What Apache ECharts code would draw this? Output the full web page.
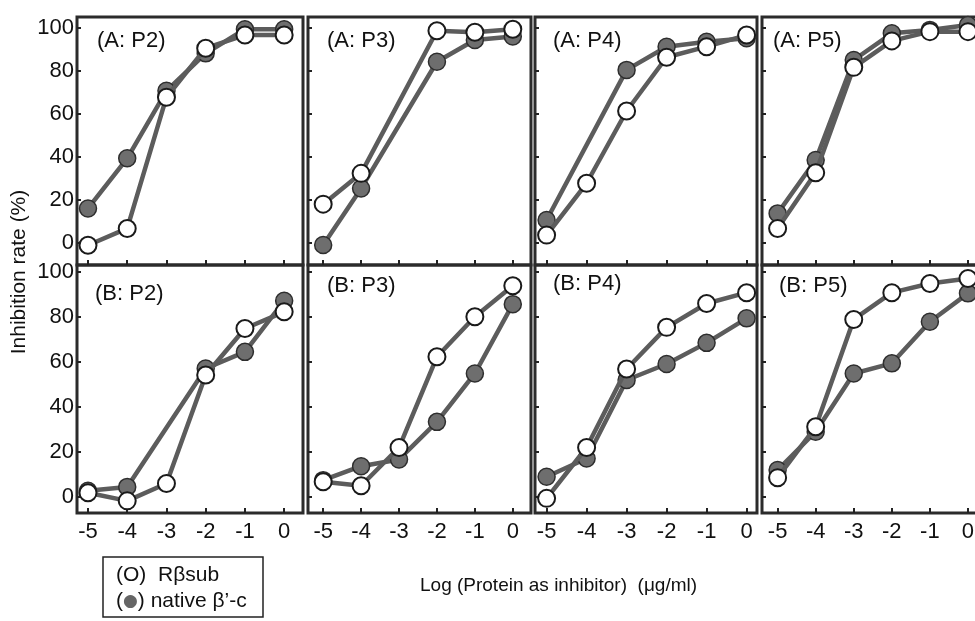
<!DOCTYPE html>
<html>
<head>
<meta charset="utf-8">
<script src="https://cdn.jsdelivr.net/npm/echarts@6/dist/echarts.min.js"></script>
<style>
html,body{margin:0;padding:0;background:#fff;}
#chart{width:975px;height:621px;}
</style>
</head>
<body>
<div id="chart"></div>
<script>
// ---- data ----
const xValues = [-5, -4, -3, -2, -1, 0];
const yTicks = [0, 20, 40, 60, 80, 100];
const panelTitles = ['(A: P2)', '(A: P3)', '(A: P4)', '(A: P5)', '(B: P2)', '(B: P3)', '(B: P4)', '(B: P5)'];
const seriesNames = ['native β’-c', 'Rβsub'];

// null = no point measured at that x
const native_A_P2 = [16.1, 39.4, 70.8, 88.2, 99.4, 99.4];
const rbsub_A_P2  = [-1.0, 6.8, 67.8, 90.6, 96.7, 96.7];
const native_A_P3 = [-0.9, 25.4, null, 84.3, 94.4, 96.0];
const rbsub_A_P3  = [18.1, 32.4, null, 98.7, 98.0, 99.4];
const native_A_P4 = [10.7, null, 80.5, 91.3, 93.6, 95.2];
const rbsub_A_P4  = [3.7, 27.8, 61.4, 86.4, 91.3, 96.7];
const native_A_P5 = [13.8, 38.6, 85.1, 97.5, 99.1, 101.4];
const rbsub_A_P5  = [6.8, 32.7, 81.7, 94.0, 98.3, 98.3];
const native_B_P2 = [2.7, 4.4, null, 57.0, 64.4, 87.1];
const rbsub_B_P2  = [1.8, -1.8, 5.9, 54.1, 74.8, 82.2];
const native_B_P3 = [7.4, 13.6, 16.6, 33.3, 54.8, 85.6];
const rbsub_B_P3  = [6.7, 4.9, 21.9, 62.2, 80.0, 93.8];
const native_B_P4 = [8.9, 17.0, 51.9, 59.0, 68.4, 79.3];
const rbsub_B_P4  = [-0.7, 21.9, 56.8, 75.3, 85.9, 90.7];
const native_B_P5 = [11.9, 28.9, 54.8, 59.3, 77.8, 90.4];
const rbsub_B_P5  = [8.5, 31.1, 78.8, 90.7, 94.8, 97.0];

const nativeData = [native_A_P2, native_A_P3, native_A_P4, native_A_P5, native_B_P2, native_B_P3, native_B_P4, native_B_P5];
const rbsubData  = [rbsub_A_P2, rbsub_A_P3, rbsub_A_P4, rbsub_A_P5, rbsub_B_P2, rbsub_B_P3, rbsub_B_P4, rbsub_B_P5];

// ---- layout ----
const FONT = '"Liberation Sans", Arial, sans-serif';
const cols = [
  {left: 77,  width: 226, min: -5.28, max: 0.48},
  {left: 308, width: 223, min: -5.40, max: 0.48},
  {left: 535, width: 222, min: -5.29, max: 0.26},
  {left: 762, width: 225, min: -5.41, max: 0.50}
];
const rows = [
  {top: 17,  height: 248, min: -10.2, max: 105.1},
  {top: 265, height: 248, min: -7.2,  max: 103.0}
];
const titlePos = [
  [97, 30], [327, 30], [553, 30], [773, 30],
  [95, 283], [327, 275], [553, 273], [779, 275]
];

const grids = [], xAxes = [], yAxes = [], series = [], graphics = [];
for (let r = 0; r < 2; r++) {
  for (let c = 0; c < 4; c++) {
    const i = r * 4 + c;
    const col = cols[c], row = rows[r];
    grids.push({left: col.left, top: row.top, width: col.width, height: row.height,
      outerBoundsMode: 'none', containLabel: false,
      show: true, borderColor: '#2b2b2b', borderWidth: 3, backgroundColor: 'transparent'});
    xAxes.push({
      type: 'value', gridIndex: i, min: col.min, max: col.max, position: 'bottom',
      axisLine: {show: false, onZero: false},
      splitLine: {show: false},
      axisTick: {show: true, inside: true, length: 5, customValues: xValues,
        lineStyle: {color: '#222', width: 2}},
      axisLabel: {show: r === 1, customValues: xValues, margin: 8,
        fontSize: 22, color: '#111', fontFamily: FONT}
    });
    yAxes.push({
      type: 'value', gridIndex: i, min: row.min, max: row.max, position: 'left',
      axisLine: {show: false, onZero: false},
      splitLine: {show: false},
      axisTick: {show: true, inside: true, length: 4, customValues: yTicks,
        lineStyle: {color: '#222', width: 2}},
      axisLabel: {show: c === 0, customValues: yTicks, margin: 3,
        fontSize: 22, color: '#111', fontFamily: FONT}
    });
    const toPts = arr => xValues.map((x, k) => [x, arr[k]]).filter(p => p[1] !== null);
    series.push({
      name: seriesNames[0], type: 'line', xAxisIndex: i, yAxisIndex: i,
      data: toPts(nativeData[i]), symbol: 'circle', symbolSize: 17,
      lineStyle: {color: '#5c5c5c', width: 4.5},
      itemStyle: {color: '#6e6e6e', borderColor: '#2e2e2e', borderWidth: 1.5},
      animation: false, z: 2
    });
    series.push({
      name: seriesNames[1], type: 'line', xAxisIndex: i, yAxisIndex: i,
      data: toPts(rbsubData[i]), symbol: 'circle', symbolSize: 17,
      lineStyle: {color: '#5c5c5c', width: 4.5},
      itemStyle: {color: '#ffffff', borderColor: '#1a1a1a', borderWidth: 2},
      animation: false, z: 3
    });
    graphics.push({
      type: 'text', left: titlePos[i][0], top: titlePos[i][1], z: 10,
      style: {text: panelTitles[i], font: '22px ' + FONT, fill: '#111'}
    });
  }
}

// axis titles
graphics.push({
  type: 'text', x: 19, y: 272, rotation: Math.PI / 2, z: 10,
  style: {text: 'Inhibition rate (%)', font: '21px ' + FONT, fill: '#111',
    align: 'center', verticalAlign: 'middle'}
});
graphics.push({
  type: 'text', left: 420, top: 576, z: 10,
  style: {text: 'Log (Protein as inhibitor)  (μg/ml)', font: '19px ' + FONT, fill: '#111'}
});
// legend box
graphics.push({
  type: 'rect', shape: {x: 103, y: 557, width: 160, height: 60}, z: 10,
  style: {fill: 'none', stroke: '#222', lineWidth: 1.5}
});
graphics.push({
  type: 'text', left: 116, top: 565, z: 10,
  style: {text: '(O)  Rβsub', font: '21px ' + FONT, fill: '#111'}
});
graphics.push({
  type: 'text', left: 116, top: 591, z: 10,
  style: {
    text: '{p|(}{d|●}{p|)} native β’-c',
    font: '21px ' + FONT, fill: '#111',
    rich: {p: {font: '21px ' + FONT, fill: '#111'},
           d: {font: '17px "DejaVu Sans"', fill: '#666'}}
  }
});

const chart = echarts.init(document.getElementById('chart'), null, {renderer: 'canvas'});
chart.setOption({
  backgroundColor: '#ffffff',
  animation: false,
  grid: grids, xAxis: xAxes, yAxis: yAxes, series: series, graphic: graphics
});
</script>
</body>
</html>
